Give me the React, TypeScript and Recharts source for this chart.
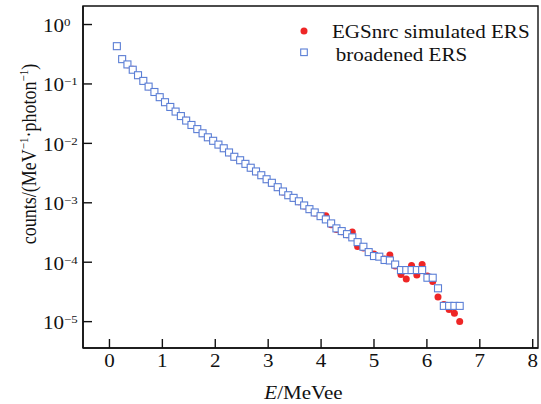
import React from "react";
import { ScatterChart, Scatter, XAxis, YAxis, ReferenceArea, Legend, Label } from "recharts";

// bin energies (MeVee)
const energies = [
  0.14, 0.24, 0.34, 0.44, 0.54, 0.64, 0.74, 0.85, 0.95, 1.05,
  1.15, 1.25, 1.35, 1.45, 1.55, 1.66, 1.76, 1.86, 1.96, 2.06,
  2.16, 2.26, 2.36, 2.47, 2.57, 2.67, 2.77, 2.87, 2.97, 3.07,
  3.18, 3.28, 3.38, 3.48, 3.58, 3.68, 3.78, 3.88, 3.99, 4.09,
  4.19, 4.29, 4.39, 4.49, 4.59, 4.69, 4.8, 4.9, 5.0, 5.1,
  5.2, 5.3, 5.4, 5.51, 5.61, 5.71, 5.81, 5.91, 6.01, 6.11,
  6.21, 6.32, 6.42, 6.52, 6.62,
];

// EGSnrc simulated ERS
const egsCounts = [
  0.425, 0.265, 0.21, 0.176, 0.139, 0.113, 0.0895, 0.0728, 0.0603, 0.0489,
  0.0408, 0.0345, 0.0285, 0.0244, 0.0201, 0.0172, 0.0148, 0.0125, 0.0111, 0.00945,
  0.00821, 0.00698, 0.0059, 0.00515, 0.00455, 0.00385, 0.00332, 0.00289, 0.00246, 0.00214,
  0.00181, 0.00152, 0.00133, 0.00119, 0.00104, 0.000885, 0.000772, 0.000675, 0.00059, 0.000608,
  0.000429, 0.000354, 0.000327, 0.00029, 0.000321, 0.000183, 0.000173, 0.000145, 0.000137, 0.000125,
  0.000113, 0.000132, 0.0000861, 0.0000621, 0.0000521, 0.0000879, 0.0000609, 0.0000914, 0.0000586, 0.0000473,
  0.000026, 0.0000195, 0.000016, 0.0000138, 0.0000101,
];

// broadened ERS
const broadCounts = [
  0.432, 0.2615, 0.213, 0.1735, 0.1402, 0.1125, 0.0902, 0.0732, 0.0599, 0.0493,
  0.041, 0.0343, 0.0288, 0.0242, 0.0204, 0.01738, 0.01477, 0.01265, 0.01105, 0.00954,
  0.00827, 0.00703, 0.00595, 0.0052, 0.00452, 0.00389, 0.00337, 0.00291, 0.00249, 0.00217,
  0.00183, 0.00155, 0.00134, 0.00121, 0.00106, 0.000902, 0.000781, 0.000688, 0.000596, 0.000525,
  0.00045, 0.000371, 0.000334, 0.000297, 0.000262, 0.000218, 0.000182, 0.000148, 0.000127, 0.000124,
  0.000109, 0.000107, 0.0000914, 0.0000738, 0.0000738, 0.0000738, 0.0000738, 0.0000738, 0.0000548, 0.0000548,
  0.0000364, 0.0000184, 0.0000184, 0.0000184, 0.0000184,
];

const energyTicks = [0, 1, 2, 3, 4, 5, 6, 7, 8];
const countTicks = [1, 0.1, 0.01, 0.001, 0.0001, 0.00001];
const seriesNames = ["EGSnrc simulated ERS", "broadened ERS"];

const egsRows = energies.map((e, i) => ({ e, c: egsCounts[i] }));
const broadRows = energies.map((e, i) => ({ e, c: broadCounts[i] }));

const FONT = '"Liberation Serif", "Times New Roman", serif';
const STRETCH = 1.17; // the source figure is a bit wider than tall
const INK = "#111";
const RED = "#ee2626";
const BLUE = "#5b7fd6";
const X_DOMAIN: [number, number] = [-0.5, 8.1];
const Y_DOMAIN: [number, number] = [3.6e-6, 2.05];

const RedDot = (p: any) => <circle cx={p.cx} cy={p.cy} r={3.5} fill={RED} />;

const BlueSquare = (p: any) => (
  <rect x={p.cx - 3.5} y={p.cy - 3.5} width={7} height={7} fill="#fff" stroke={BLUE} strokeWidth={1.1} />
);

const XTick = ({ x, y, payload }: any) => (
  <text transform={`translate(${x},${y}) scale(${STRETCH},1)`} textAnchor="middle" fontFamily={FONT} fontSize={18} fill={INK}>
    {payload.value}
  </text>
);

const YTick = ({ x, y, payload }: any) => {
  const exp = Math.round(Math.log10(payload.value));
  const sup = exp === 0 ? "0" : `\u2212${-exp}`;
  return (
    <text transform={`translate(${x},${y + 7.5}) scale(${STRETCH},1)`} textAnchor="start" fontFamily={FONT} fontSize={18} fill={INK}>
      10<tspan dy={-6} fontSize={11}>{sup}</tspan>
    </text>
  );
};

const XTitle = ({ viewBox }: any) => (
  <text
    transform={`translate(${viewBox.x + viewBox.width / 2 - 7},${viewBox.y + 51}) scale(${STRETCH},1)`}
    textAnchor="middle"
    fontFamily={FONT}
    fontSize={18}
    fill={INK}
  >
    <tspan fontStyle="italic">E</tspan>/MeVee
  </text>
);

const YTitle = ({ viewBox }: any) => (
  <text
    transform={`translate(${viewBox.x + 36},${viewBox.y + 148}) rotate(-90) scale(1,${STRETCH})`}
    textAnchor="middle"
    fontFamily={FONT}
    fontSize={18}
    fill={INK}
  >
    counts/(MeV<tspan dy={-7} fontSize={11}>{"\u22121"}</tspan>
    <tspan dy={7}>{"\u00b7photon"}</tspan>
    <tspan dy={-7} fontSize={11}>{"\u22121"}</tspan>
    <tspan dy={7}>)</tspan>
  </text>
);

const LegendBox = () => (
  <svg width={240} height={56} style={{ display: "block" }}>
    <circle cx={8} cy={15} r={3.5} fill={RED} />
    <text transform={`translate(36,22.3) scale(${STRETCH},1)`} fontFamily={FONT} fontSize={18} fill={INK}>
      {seriesNames[0]}
    </text>
    <rect x={4.7} y={33} width={6.6} height={6.6} fill="#fff" stroke={BLUE} strokeWidth={1.1} />
    <text transform={`translate(39.7,44.7) scale(${STRETCH},1)`} fontFamily={FONT} fontSize={18} fill={INK}>
      {seriesNames[1]}
    </text>
  </svg>
);

export default function App() {
  return (
    <div style={{ position: "absolute", left: 0, top: 0 }}>
      <ScatterChart width={541} height={404} margin={{ top: 6, right: 3, bottom: 0, left: 0 }}>
        <XAxis
          type="number"
          dataKey="e"
          domain={X_DOMAIN}
          ticks={energyTicks}
          interval={0}
          allowDataOverflow
          height={56}
          tickSize={-9}
          tickMargin={28}
          tick={<XTick />}
          axisLine={{ stroke: INK, strokeWidth: 1.6 }}
          tickLine={{ stroke: INK, strokeWidth: 1.4 }}
        >
          <Label content={<XTitle />} />
        </XAxis>
        <YAxis
          type="number"
          dataKey="c"
          scale="log"
          domain={Y_DOMAIN}
          ticks={countTicks}
          interval={0}
          allowDataOverflow
          width={83}
          tickSize={-9}
          tickMargin={49}
          tick={<YTick />}
          axisLine={{ stroke: INK, strokeWidth: 1.6 }}
          tickLine={{ stroke: INK, strokeWidth: 1.4 }}
        >
          <Label content={<YTitle />} />
        </YAxis>
        <ReferenceArea x1={X_DOMAIN[0]} x2={X_DOMAIN[1]} y1={Y_DOMAIN[0]} y2={Y_DOMAIN[1]} fill="none" stroke={INK} strokeWidth={1.4} />
        <Scatter name={seriesNames[0]} data={egsRows} fill={RED} shape={RedDot} isAnimationActive={false} />
        <Scatter name={seriesNames[1]} data={broadRows} fill="#fff" shape={BlueSquare} isAnimationActive={false} />
        <Legend
          layout="vertical"
          align="center"
          verticalAlign="middle"
          wrapperStyle={{ left: 296, top: 16, width: 240, height: 56 }}
          content={<LegendBox />}
        />
      </ScatterChart>
    </div>
  );
}
